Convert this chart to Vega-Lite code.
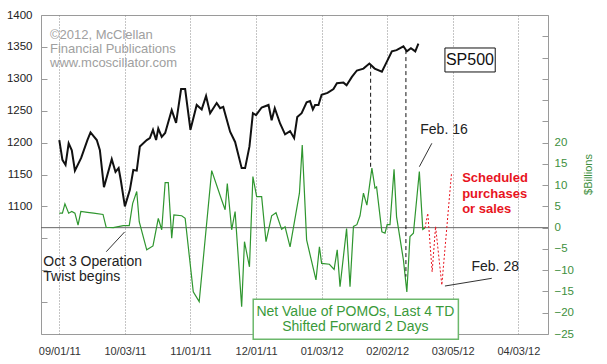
{
  "$schema": "https://vega.github.io/schema/vega-lite/v6.json",
  "width": 507,
  "height": 319,
  "autosize": {"type": "none"},
  "padding": {"left": 41, "top": 15, "right": 59, "bottom": 30},
  "background": "white",
  "config": {
    "view": {"stroke": "#9a9a9a", "strokeWidth": 1},
    "font": "Liberation Sans",
    "axis": {"labelFont": "Liberation Sans", "titleFont": "Liberation Sans"},
    "text": {"font": "Liberation Sans"}
  },
  "datasets": {
    "sp500": [
      {"t": 0, "sp": 1204}, {"t": 1, "sp": 1173}, {"t": 2, "sp": 1165}, {"t": 3, "sp": 1199},
      {"t": 4, "sp": 1188}, {"t": 5, "sp": 1156}, {"t": 7, "sp": 1176}, {"t": 9, "sp": 1204},
      {"t": 10, "sp": 1216}, {"t": 12, "sp": 1204}, {"t": 13, "sp": 1188}, {"t": 14.3, "sp": 1130},
      {"t": 16.8, "sp": 1174}, {"t": 18, "sp": 1154}, {"t": 19, "sp": 1160}, {"t": 19.7, "sp": 1141},
      {"t": 21, "sp": 1100}, {"t": 22.6, "sp": 1126}, {"t": 23.7, "sp": 1157}, {"t": 24.8, "sp": 1156},
      {"t": 25.8, "sp": 1194}, {"t": 28, "sp": 1204}, {"t": 29, "sp": 1207}, {"t": 30, "sp": 1220},
      {"t": 31, "sp": 1204}, {"t": 31.7, "sp": 1222}, {"t": 32.8, "sp": 1209}, {"t": 33.9, "sp": 1215},
      {"t": 36, "sp": 1251}, {"t": 37.4, "sp": 1231}, {"t": 39, "sp": 1284}, {"t": 40.3, "sp": 1284},
      {"t": 42, "sp": 1220}, {"t": 44, "sp": 1259}, {"t": 45.6, "sp": 1252}, {"t": 47, "sp": 1273},
      {"t": 48.3, "sp": 1246}, {"t": 50.4, "sp": 1262}, {"t": 51.5, "sp": 1254}, {"t": 52.5, "sp": 1256},
      {"t": 54.7, "sp": 1217}, {"t": 56.3, "sp": 1201}, {"t": 58.4, "sp": 1160}, {"t": 59.5, "sp": 1160},
      {"t": 60.9, "sp": 1194}, {"t": 62, "sp": 1246}, {"t": 63, "sp": 1243}, {"t": 64.8, "sp": 1255},
      {"t": 67, "sp": 1259}, {"t": 68, "sp": 1235}, {"t": 69, "sp": 1254}, {"t": 70.7, "sp": 1230},
      {"t": 72.3, "sp": 1213}, {"t": 73.9, "sp": 1218}, {"t": 75.2, "sp": 1207}, {"t": 76.2, "sp": 1240},
      {"t": 77.6, "sp": 1246}, {"t": 79.2, "sp": 1263}, {"t": 80.3, "sp": 1265}, {"t": 81.2, "sp": 1252},
      {"t": 81.9, "sp": 1259}, {"t": 83, "sp": 1259}, {"t": 84, "sp": 1275}, {"t": 85.9, "sp": 1278},
      {"t": 87.8, "sp": 1284}, {"t": 88.9, "sp": 1293}, {"t": 91, "sp": 1294}, {"t": 92, "sp": 1290},
      {"t": 93.7, "sp": 1303}, {"t": 95.3, "sp": 1313}, {"t": 97.4, "sp": 1316}, {"t": 99.3, "sp": 1324},
      {"t": 101, "sp": 1316}, {"t": 103.3, "sp": 1311}, {"t": 104.9, "sp": 1327}, {"t": 106.5, "sp": 1343},
      {"t": 108, "sp": 1345}, {"t": 110.2, "sp": 1351}, {"t": 111.3, "sp": 1343}, {"t": 112.6, "sp": 1348},
      {"t": 114, "sp": 1343}, {"t": 115, "sp": 1355}
    ],
    "pomo": [
      {"t": 0, "b": 3.4}, {"t": 1, "b": 3.4}, {"t": 1.8, "b": 5.6}, {"t": 3, "b": 3.4},
      {"t": 4, "b": 3.8}, {"t": 5, "b": 3.4}, {"t": 6, "b": 0.6}, {"t": 6.9, "b": 3.8},
      {"t": 9, "b": 3.6}, {"t": 11, "b": 3.4}, {"t": 14, "b": 3.1}, {"t": 15, "b": 0.1},
      {"t": 17.3, "b": 0}, {"t": 18.5, "b": 0.2}, {"t": 20.5, "b": 0.5}, {"t": 22.4, "b": 0.5},
      {"t": 23.5, "b": 5.7}, {"t": 24.8, "b": 8.5}, {"t": 25.6, "b": 1.4}, {"t": 28, "b": -5.2},
      {"t": 30, "b": -4.3}, {"t": 31.7, "b": 2.2}, {"t": 32.8, "b": -0.5}, {"t": 33.9, "b": 10.6},
      {"t": 34.9, "b": 10.6}, {"t": 36, "b": -2.5}, {"t": 36.7, "b": 3.0}, {"t": 39.2, "b": 2.8},
      {"t": 40.3, "b": 2.2}, {"t": 42.9, "b": -15.1}, {"t": 44.8, "b": -17.4}, {"t": 48.8, "b": 13.4},
      {"t": 52, "b": 6.5}, {"t": 53.1, "b": 4.2}, {"t": 53.8, "b": 10.4}, {"t": 55.2, "b": -0.5},
      {"t": 56.3, "b": 3.8}, {"t": 58.4, "b": -18.6}, {"t": 59.3, "b": -3.3}, {"t": 60.9, "b": -9.2},
      {"t": 62, "b": 12.0}, {"t": 63.2, "b": 7.3}, {"t": 64.8, "b": 7.3}, {"t": 66.2, "b": -3.3},
      {"t": 68, "b": 2.8}, {"t": 69.4, "b": 3.5}, {"t": 71.2, "b": -0.4}, {"t": 72.3, "b": 0.2},
      {"t": 73.9, "b": -4.5}, {"t": 76.9, "b": 8.1}, {"t": 77.8, "b": 19.4}, {"t": 79.2, "b": -2.9},
      {"t": 82.2, "b": -12.3}, {"t": 83.3, "b": -4.5}, {"t": 84, "b": -8.4}, {"t": 86.5, "b": -8.6},
      {"t": 88, "b": -9.8}, {"t": 89, "b": -5.2}, {"t": 89.9, "b": -13.9}, {"t": 92, "b": -0.2},
      {"t": 93.1, "b": -13.9}, {"t": 94.2, "b": 0.3}, {"t": 95.3, "b": 0.7}, {"t": 96.3, "b": 2.8},
      {"t": 97.4, "b": 8.1}, {"t": 98.5, "b": 5.3}, {"t": 100.1, "b": 14}, {"t": 101.1, "b": 9.3},
      {"t": 101.6, "b": 9.6}, {"t": 103.3, "b": -1.0}, {"t": 104.3, "b": -1.3}, {"t": 105, "b": 0.7},
      {"t": 105.9, "b": 0.7}, {"t": 107.2, "b": 13.7}, {"t": 108, "b": 2.6}, {"t": 110.2, "b": -7.6},
      {"t": 111.3, "b": -15.1}, {"t": 112.3, "b": -2.1}, {"t": 113.4, "b": -1.3}, {"t": 115.3, "b": 13.2},
      {"t": 116.4, "b": -0.4}, {"t": 117.1, "b": -0.1}
    ],
    "scheduled": [
      {"t": 117.1, "b": -0.1}, {"t": 118, "b": 3.4}, {"t": 119.4, "b": -10.4},
      {"t": 120.5, "b": 0.3}, {"t": 122.5, "b": -13.5}, {"t": 125.6, "b": 12.8}
    ]
  },
  "encoding": {
    "x": {
      "field": "t",
      "type": "quantitative",
      "scale": {"domain": [-5.86, 156.5], "nice": false, "zero": false},
      "axis": {
        "values": [0, 21, 42, 63, 84, 105, 126, 147],
        "labelExpr": "['09/01/11','10/03/11','11/01/11','12/01/11','01/03/12','02/02/12','03/05/12','04/03/12'][round(datum.value/21)]",
        "grid": true,
        "gridDash": [1, 2],
        "gridColor": "#8a8a8a",
        "gridOpacity": 1,
        "ticks": false,
        "domain": false,
        "labelFontSize": 11,
        "labelColor": "#333333",
        "labelPadding": 11,
        "title": null
      }
    }
  },
  "layer": [
    {
      "encoding": {
        "y": {
          "field": "b",
          "type": "quantitative",
          "scale": {"domain": [-25, 50], "nice": false, "zero": false},
          "axis": {
            "orient": "right",
            "values": [-25, -20, -15, -10, -5, 0, 5, 10, 15, 20, 25, 30, 35, 40, 45, 50],
            "labelExpr": "datum.value <= 20 ? datum.label : ''",
            "format": "d",
            "grid": false,
            "domain": false,
            "tickSize": -6,
            "tickColor": "#9a9a9a",
            "labelPadding": 12,
            "labelColor": "#3d8f3d",
            "labelFontSize": 11.5,
            "labelAlign": "left",
            "title": "$Billions",
            "titleColor": "#3d8f3d",
            "titleFontSize": 11,
            "titleFontWeight": "normal",
            "titleAngle": 270,
            "titleX": 40.5,
            "titleY": 159,
            "titleAlign": "center",
            "titleBaseline": "middle"
          }
        }
      },
      "layer": [
        {
          "data": {"values": [{"t": -5.86, "t2": 156.5, "b": 0}]},
          "mark": {"type": "rule", "color": "#666666", "strokeWidth": 1},
          "encoding": {"x2": {"field": "t2"}}
        },
        {
          "data": {"name": "pomo"},
          "mark": {"type": "line", "color": "#2f962f", "strokeWidth": 1.2}
        },
        {
          "data": {"name": "scheduled"},
          "mark": {"type": "line", "color": "#e8141e", "strokeWidth": 1, "strokeDash": [2, 2]}
        }
      ]
    },
    {
      "encoding": {
        "y": {
          "field": "sp",
          "type": "quantitative",
          "scale": {"domain": [900, 1400], "nice": false, "zero": false},
          "axis": {
            "orient": "left",
            "values": [900, 950, 1000, 1050, 1100, 1150, 1200, 1250, 1300, 1350, 1400],
            "format": "d",
            "labelExpr": "datum.value >= 1100 ? datum.label : ''",
            "grid": false,
            "domain": false,
            "tickSize": -6,
            "tickColor": "#9a9a9a",
            "labelPadding": 15,
            "labelColor": "#222222",
            "labelFontSize": 11.5,
            "title": null
          }
        }
      },
      "layer": [
        {
          "data": {"values": [{"t": 99.7, "sp": 1322, "sp2": 1162}, {"t": 111, "sp": 1345, "sp2": 990}]},
          "mark": {"type": "rule", "color": "#111111", "strokeWidth": 1, "strokeDash": [4, 3]},
          "encoding": {"y2": {"field": "sp2"}}
        },
        {
          "data": {"name": "sp500"},
          "mark": {"type": "line", "color": "#111111", "strokeWidth": 2}
        },
        {
          "data": {"values": [
            {"t": 119.3, "t2": 115.3, "sp": 1198.9, "sp2": 1162.2},
            {"t": 15.05, "t2": 20.9, "sp": 1029, "sp2": 1059.9},
            {"t": 123.5, "t2": 138.5, "sp": 975.2, "sp2": 987.3}
          ]},
          "mark": {"type": "rule", "color": "#333333", "strokeWidth": 1},
          "encoding": {"x2": {"field": "t2"}, "y2": {"field": "sp2"}}
        },
        {
          "data": {"values": [{"t": 123.5, "t2": 139.6, "sp": 1348.3, "sp2": 1310.7}]},
          "mark": {"type": "rect", "fill": "white", "stroke": "#111111", "strokeWidth": 1},
          "encoding": {"x2": {"field": "t2"}, "y2": {"field": "sp2"}}
        },
        {
          "data": {"values": [{"t": 131.5, "sp": 1329.5, "text": "SP500"}]},
          "mark": {"type": "text", "fontSize": 16, "color": "#111111", "align": "center", "baseline": "middle"},
          "encoding": {"text": {"field": "text"}}
        },
        {
          "data": {"values": [{"t": -2.98, "sp": 1362.4, "text": "©2012, McClellan\nFinancial Publications\nwww.mcoscillator.com"}]},
          "mark": {"type": "text", "fontSize": 13, "color": "#a0a0a0", "align": "left", "baseline": "alphabetic", "lineBreak": "\n", "lineHeight": 14},
          "encoding": {"text": {"field": "text"}}
        },
        {
          "data": {"values": [
            {"t": 123.2, "sp": 1219.8, "text": "Feb. 16"},
            {"t": 139.6, "sp": 1005, "text": "Feb. 28"}
          ]},
          "mark": {"type": "text", "fontSize": 14, "color": "#222222", "align": "center", "baseline": "middle"},
          "encoding": {"text": {"field": "text"}}
        },
        {
          "data": {"values": [{"t": -5.13, "sp": 1006.6, "text": "Oct 3 Operation\nTwist begins"}]},
          "mark": {"type": "text", "fontSize": 14, "color": "#222222", "align": "left", "baseline": "alphabetic", "lineBreak": "\n", "lineHeight": 15},
          "encoding": {"text": {"field": "text"}}
        },
        {
          "data": {"values": [{"t": 129, "sp": 1138.2, "text": "Scheduled\npurchases\nor sales"}]},
          "mark": {"type": "text", "fontSize": 13, "fontWeight": "bold", "color": "#e8141e", "align": "left", "baseline": "alphabetic", "lineBreak": "\n", "lineHeight": 15.5},
          "encoding": {"text": {"field": "text"}}
        },
        {
          "data": {"values": [{"t": 62.1, "t2": 127.8, "sp": 954.4, "sp2": 891.7}]},
          "mark": {"type": "rect", "fill": "white", "stroke": "#6cb86c", "strokeWidth": 1.5},
          "encoding": {"x2": {"field": "t2"}, "y2": {"field": "sp2"}}
        },
        {
          "data": {"values": [{"t": 94.8, "sp": 928.2, "text": "Net Value of POMOs, Last 4 TD\nShifted Forward 2 Days"}]},
          "mark": {"type": "text", "fontSize": 14, "color": "#3a9a3a", "align": "center", "baseline": "alphabetic", "lineBreak": "\n", "lineHeight": 14.5},
          "encoding": {"text": {"field": "text"}}
        }
      ]
    }
  ],
  "resolve": {"scale": {"y": "independent"}}
}
